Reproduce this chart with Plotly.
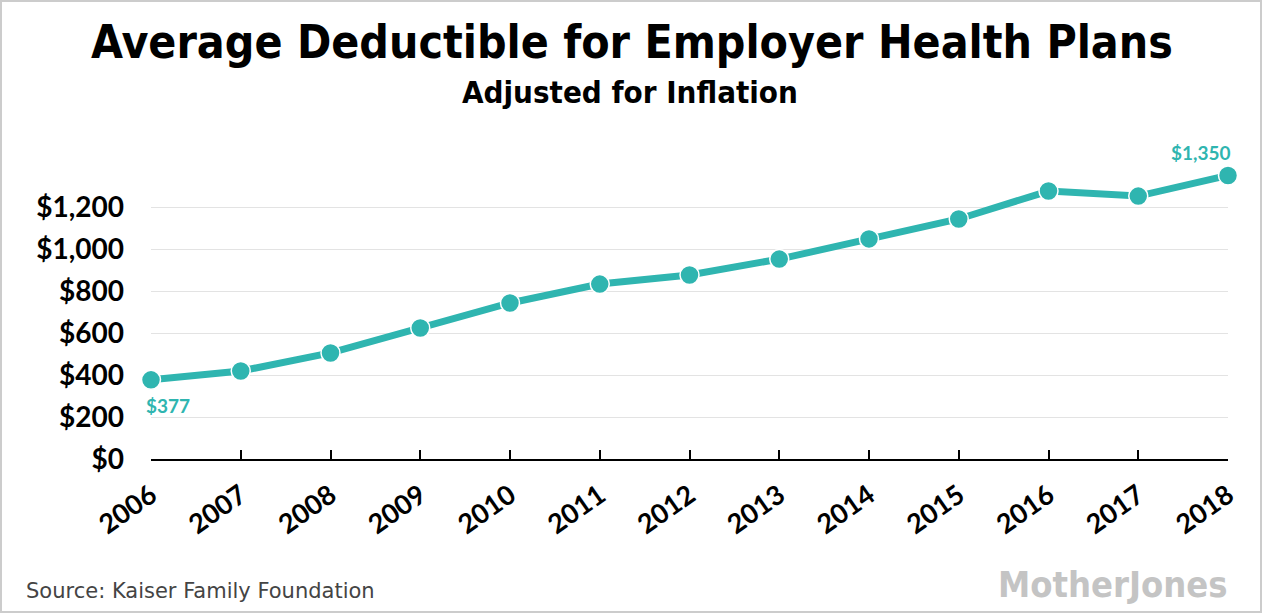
import plotly.graph_objects as go

years = [2006, 2007, 2008, 2009, 2010, 2011, 2012, 2013, 2014, 2015, 2016, 2017, 2018]
deductible = [377, 419, 505, 624, 743, 833, 876, 952, 1048, 1143, 1276, 1252, 1350]
ytick_vals = [0, 200, 400, 600, 800, 1000, 1200]
ytick_text = ["$0", "$200", "$400", "$600", "$800", "$1,000", "$1,200"]
title = "Average Deductible for Employer Health Plans"
subtitle = "Adjusted for Inflation"
source = "Source: Kaiser Family Foundation"
logo = "MotherJones"

TEAL = "#2fb5b0"
W, H = 1264, 615
L, R, T, B = 151, 36, 165, 156
pw = W - L - R
ph = H - T - B


def px(p):
    return (p - L) / pw


def py(p):
    return (H - B - p) / ph


fig = go.Figure()
fig.add_trace(go.Scatter(
    x=years, y=deductible, mode="lines+markers",
    line=dict(color=TEAL, width=7),
    marker=dict(color=TEAL, size=19, line=dict(color="white", width=1.5)),
    hoverinfo="x+y", cliponaxis=False,
))

fig.add_annotation(x=years[0], y=deductible[0], text="$377", showarrow=False,
                   xanchor="left", yanchor="top", xshift=-7, yshift=-12,
                   font=dict(family="Lato", size=19, color=TEAL, weight="bold"))
fig.add_annotation(x=years[-1], y=deductible[-1], text="$1,350", showarrow=False,
                   xanchor="right", yanchor="bottom", xshift=5, yshift=10,
                   font=dict(family="Lato", size=19, color=TEAL, weight="bold"))

fig.add_annotation(xref="paper", yref="paper", x=px(632), y=py(42), text=title,
                   showarrow=False, xanchor="center", yanchor="middle",
                   font=dict(family="DejaVu Sans Condensed", size=46, color="black", weight="bold"))
fig.add_annotation(xref="paper", yref="paper", x=px(630), y=py(92), text=subtitle,
                   showarrow=False, xanchor="center", yanchor="middle",
                   font=dict(family="DejaVu Sans Condensed", size=31, color="black", weight="bold"))
fig.add_annotation(xref="paper", yref="paper", x=px(24), y=py(591), text=source,
                   showarrow=False, xanchor="left", yanchor="middle",
                   font=dict(family="DejaVu Sans", size=21, color="#444444"))
fig.add_annotation(xref="paper", yref="paper", x=px(1230), y=py(584), text=logo,
                   showarrow=False, xanchor="right", yanchor="middle",
                   font=dict(family="DejaVu Sans Condensed", size=36, color="#c4c4c4", weight="bold"))

fig.add_shape(type="rect", xref="paper", yref="paper",
              x0=px(1), x1=px(1261), y0=py(1), y1=py(612),
              line=dict(color="#cccccc", width=2), layer="below")

fig.update_layout(
    width=W, height=H,
    margin=dict(l=L, r=R, t=T, b=B),
    paper_bgcolor="white", plot_bgcolor="white",
    showlegend=False,
    xaxis=dict(range=[2006, 2018], tickvals=years, ticktext=[str(y) for y in years],
               tickangle=-35, showgrid=False, zeroline=False,
               showline=True, linecolor="black", linewidth=2,
               ticks="inside", ticklen=9, tickwidth=1.5, tickcolor="black",
               ticklabelstandoff=8,
               tickfont=dict(family="Lato", size=27, color="black", weight="bold")),
    yaxis=dict(range=[0, 1400], tickvals=ytick_vals, ticktext=ytick_text,
               showgrid=True, gridcolor="#e3e3e3", gridwidth=1, zeroline=False,
               showline=False, ticks="", ticklabelstandoff=26,
               tickfont=dict(family="Lato", size=28, color="black", weight="bold")),
)

fig.write_html("out.html", config={"displayModeBar": False},
               post_script="document.body.style.margin='0';document.body.style.overflow='hidden';")
